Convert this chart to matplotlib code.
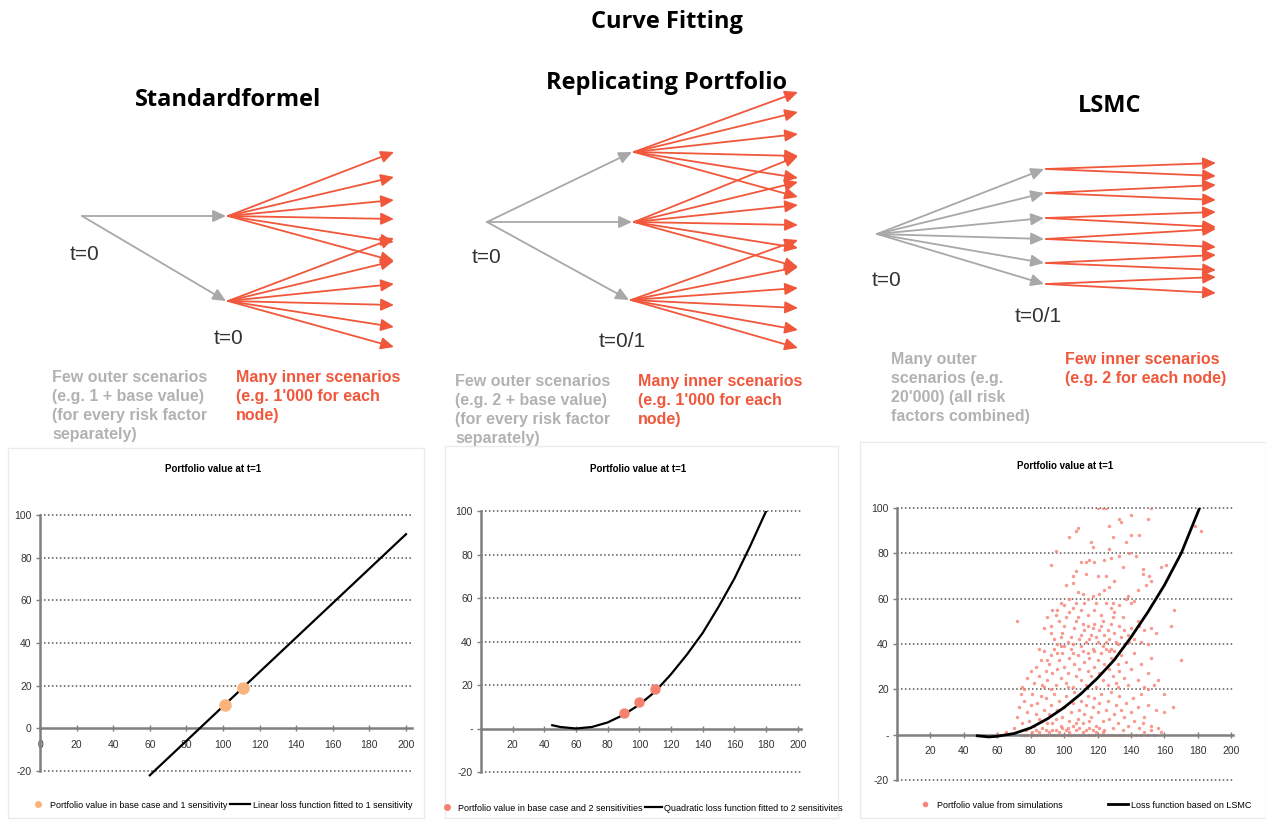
import matplotlib.pyplot as plt
from matplotlib.patches import Rectangle
from matplotlib.lines import Line2D

W, H = 1266, 822
GRAY = '#a8a8a8'
RED = '#f0573b'
NARROW = ['Liberation Sans Narrow', 'Liberation Sans', 'DejaVu Sans']

# ---- tree diagrams (pixel positions of the nodes)
sf_root = (82, 216)
sf_nodes = [(228, 216), (228, 301)]
sf_end_x = 394
sf_ends = [[152, 177, 200, 219, 242, 261], [238, 261, 284, 305, 327, 347]]

rp_root = (487, 222)
rp_nodes = [(634, 152), (634, 222), (631, 300)]
rp_end_x = 798
rp_ends = [[92, 112, 134, 156, 178, 197],
           [156, 182, 205, 225, 248, 267],
           [240, 267, 288, 308, 330, 348]]

ls_root = (877, 234)
ls_nodes = [(1046, 169), (1046, 193), (1046, 218), (1046, 239), (1046, 263), (1046, 284)]
ls_end_x = 1216
ls_ends = [[163, 176], [185, 200], [212, 227], [229, 247], [255, 270], [277, 293]]

# ---- chart data
y_ticks = [-20, 0, 20, 40, 60, 80, 100]
x_ticks = [0, 20, 40, 60, 80, 100, 120, 140, 160, 180, 200]

lin_x = [60, 200]
lin_y = [-22, 91]
sens1_x = [101, 111]
sens1_y = [11, 19]

quad_x = [45, 50, 60, 70, 80, 90, 100, 110, 120, 130, 140, 150, 160, 170, 180]
quad_y = [1.5, 0.7, 0, 0.7, 2.8, 6.3, 11, 17, 25, 34, 44, 56, 69, 84, 100]
sens2_x = [90, 100, 110]
sens2_y = [7, 12, 18]

lsmc_x = [48, 55, 60, 70, 80, 90, 100, 110, 120, 130, 140, 150, 160, 170, 181]
lsmc_y = [-0.5, -1, -0.7, 0.5, 3, 7, 12, 18, 25, 33, 43, 54, 66, 80, 100]

sim_pts = [
    (120, 100), (123, 100), (125, 100), (152, 100), (140, 97), (133, 95), (134, 94), (150, 95),
    (108, 91), (107, 90), (127, 92), (103, 87), (129, 87), (140, 88), (145, 88), (178, 92),
    (182, 90), (137, 85), (116, 85), (117, 83), (127, 82), (139, 80), (128, 78), (133, 79),
    (143, 79), (95, 81), (113, 76), (115, 77), (124, 77), (135, 74), (147, 73), (147, 71),
    (92, 75), (161, 75),
    (110, 76), (118, 76), (105, 70), (107, 72), (113, 71), (120, 70), (125, 70), (130, 68),
    (101, 66), (105, 67), (108, 63), (111, 62), (114, 60), (117, 61), (121, 62), (124, 64),
    (127, 65), (129, 58), (133, 57), (128, 56), (140, 58), (142, 59), (138, 61), (151, 70),
    (152, 68), (158, 74), (103, 60), (107, 58), (112, 58), (119, 58), (125, 58), (137, 60),
    (144, 64), (149, 66), (98, 58), (96, 55),
    (72, 50), (88, 47), (90, 52), (92, 48), (93, 55), (95, 53), (97, 50), (99, 45), (100, 48),
    (101, 52), (103, 54), (104, 43), (106, 47), (107, 50), (108, 52), (110, 44), (111, 49),
    (112, 46), (113, 41), (114, 48), (116, 44), (117, 47), (118, 49), (119, 43), (120, 41),
    (121, 46), (122, 48), (123, 50), (124, 44), (126, 46), (127, 42), (128, 49), (129, 52),
    (130, 45), (131, 41), (133, 48), (134, 43), (136, 46), (138, 44), (140, 47), (142, 42),
    (145, 48), (148, 46), (152, 47), (155, 45), (164, 48), (166, 55), (94, 42), (96, 40),
    (98, 43), (102, 41), (105, 40), (109, 42), (115, 42), (125, 41), (132, 40), (139, 41),
    (146, 41), (150, 40), (92, 45), (100, 57), (114, 53), (118, 55), (105, 56), (110, 55),
    (122, 53), (130, 54), (135, 52), (144, 50), (128, 38),
    (74, 18), (75, 21), (76, 20), (78, 25), (80, 28), (82, 23), (83, 30), (85, 26), (86, 33),
    (87, 22), (88, 37), (89, 28), (90, 24), (91, 31), (92, 35), (93, 27), (94, 38), (95, 22),
    (96, 29), (97, 33), (98, 25), (99, 36), (100, 30), (101, 23), (102, 27), (103, 34),
    (104, 38), (105, 21), (106, 31), (107, 26), (108, 35), (109, 29), (110, 24), (111, 37),
    (112, 32), (113, 22), (114, 28), (115, 34), (116, 26), (117, 38), (118, 30), (119, 21),
    (120, 33), (121, 27), (122, 36), (123, 24), (124, 31), (125, 38), (126, 22), (127, 29),
    (128, 34), (129, 26), (130, 37), (131, 23), (132, 31), (133, 28), (134, 35), (136, 25),
    (137, 32), (138, 22), (140, 29), (142, 36), (144, 24), (146, 31), (148, 21), (150, 27),
    (152, 34), (154, 22), (156, 24), (170, 33), (160, 18), (96, 36), (98, 39), (102, 21),
    (105, 36), (110, 39), (114, 36), (118, 37), (123, 39), (127, 37), (132, 21), (88, 21),
    (92, 20), (100, 39), (85, 38), (90, 33),
    (70, 3), (72, 8), (73, 12), (75, 5), (76, 15), (77, 2), (78, 10), (79, 6), (80, 13),
    (81, 18), (82, 4), (83, 9), (84, 14), (85, 7), (86, 17), (87, 3), (88, 11), (89, 16),
    (90, 5), (91, 9), (92, 13), (93, 2), (94, 18), (95, 7), (96, 11), (97, 15), (98, 4),
    (99, 8), (100, 12), (101, 17), (102, 3), (103, 6), (104, 10), (105, 14), (106, 19),
    (107, 2), (108, 7), (109, 11), (110, 15), (111, 5), (112, 9), (113, 13), (114, 17),
    (115, 3), (116, 8), (117, 12), (118, 16), (119, 4), (120, 10), (121, 14), (122, 18),
    (123, 6), (124, 2), (125, 11), (126, 15), (127, 7), (128, 19), (129, 3), (130, 9),
    (131, 13), (132, 5), (133, 17), (134, 11), (135, 2), (136, 8), (137, 14), (138, 4),
    (140, 10), (141, 16), (142, 6), (144, 12), (145, 3), (146, 18), (148, 8), (150, 13),
    (152, 4), (155, 11), (158, 1), (101, 2), (103, 1), (105, 4), (107, 5), (109, 3),
    (111, 1), (113, 2), (115, 6), (117, 2), (119, 1), (121, 3), (123, 1), (99, 3), (97, 1),
    (95, 2), (93, 5), (91, 1), (89, 2), (87, 6), (85, 1), (83, 2), (81, 1), (60, 0.5),
    (65, 1), (68, 0.5), (148, 1), (152, 2), (156, 3), (150, 20), (160, 10), (165, 12),
    (147, 5),
    (74, 0), (76, 0), (78, 0), (80, 0), (82, 0), (84, 0), (86, 0), (88, 0), (90, 0), (92, 0),
    (94, 0), (96, 0), (98, 0), (100, 0), (102, 0), (104, 0), (106, 0), (108, 0), (110, 0),
    (112, 0), (114, 0), (116, 0), (118, 0), (120, 0), (122, 0), (124, 0), (126, 0), (128, 0),
    (130, 0), (132, 0), (134, 0), (136, 0), (138, 0), (140, 0), (143, 0), (146, 0), (150, 0),
    (154, 0),
]
sim_x = [p[0] for p in sim_pts]
sim_y = [p[1] for p in sim_pts]

fig = plt.figure(figsize=(W / 100, H / 100), dpi=100)
fig.patch.set_facecolor('white')

ov = fig.add_axes([0, 0, 1, 1])
ov.set_xlim(0, W)
ov.set_ylim(H, 0)
ov.axis('off')


def arrow(p0, p1, color):
    ov.annotate('', xy=p1, xytext=p0,
                arrowprops=dict(arrowstyle='-|>,head_length=0.65,head_width=0.3',
                                color=color, lw=1.3, mutation_scale=12,
                                shrinkA=0, shrinkB=0))


def tree(root, nodes, end_x, ends):
    for (nx, ny), ys in zip(nodes, ends):
        arrow(root, (nx - 2, ny), GRAY)
        for ey in ys:
            arrow((nx, ny), (end_x, ey), RED)


tree(sf_root, sf_nodes, sf_end_x, sf_ends)
tree(rp_root, rp_nodes, rp_end_x, rp_ends)
tree(ls_root, ls_nodes, ls_end_x, ls_ends)

# titles
head = dict(fontsize=17, fontweight='bold', family=['Open Sans', 'DejaVu Sans'],
            ha='center', va='center', color='black')
ov.text(667, 22, 'Curve Fitting', **head)
ov.text(228, 100, 'Standardformel', **head)
ov.text(666, 83, 'Replicating Portfolio', **head)
ov.text(1110, 106, 'LSMC', **head)

# time labels
tl = dict(fontsize=15, color='#333333', ha='center', va='center', family='Liberation Sans')
ov.text(85, 254, 't=0', **tl)
ov.text(229, 338, 't=0', **tl)
ov.text(487, 257, 't=0', **tl)
ov.text(622, 341, 't=0/1', **tl)
ov.text(887, 280, 't=0', **tl)
ov.text(1038, 316, 't=0/1', **tl)

# scenario notes
note = dict(fontsize=11.5, fontweight='bold', family='Liberation Sans', va='top',
            ha='left', linespacing=1.32, zorder=2)
ov.text(52, 370, 'Few outer scenarios\n(e.g. 1 + base value)\n(for every risk factor\nseparately)',
        color='#b2b2b2', **note)
ov.text(236, 370, "Many inner scenarios\n(e.g. 1'000 for each\nnode)", color=RED, **note)
ov.text(455, 374, 'Few outer scenarios\n(e.g. 2 + base value)\n(for every risk factor\nseparately)',
        color='#b2b2b2', **note)
ov.text(638, 374, "Many inner scenarios\n(e.g. 1'000 for each\nnode)", color=RED, **note)
ov.text(891, 352, "Many outer\nscenarios (e.g.\n20'000) (all risk\nfactors combined)",
        color='#b2b2b2', **note)
ov.text(1065, 352, "Few inner scenarios\n(e.g. 2 for each node)", color=RED, **note)

# panel frames for the three charts
for x0, y0, x1, y1 in [(8, 448, 424, 818), (445, 446, 838, 818), (860, 442, 1266, 818)]:
    ov.add_patch(Rectangle((x0, y0), x1 - x0, y1 - y0, facecolor='white',
                           edgecolor='#ebebeb', lw=1, zorder=5))


def chart(left, right, top, bottom, xmax, zero_label, title, title_xy):
    ax = fig.add_axes([left / W, (H - bottom) / H, (right - left) / W, (bottom - top) / H])
    ax.set_facecolor('none')
    ax.set_xlim(0, xmax)
    ax.set_ylim(-20, 100)
    for s in ['top', 'right']:
        ax.spines[s].set_visible(False)
    ax.spines['bottom'].set_position(('data', 0))
    for s in ['left', 'bottom']:
        ax.spines[s].set_color('#7f7f7f')
        ax.spines[s].set_linewidth(1.8)
    ax.set_yticks(y_ticks)
    ax.set_yticklabels([('0' if zero_label else '-') if v == 0 else str(v) for v in y_ticks])
    ax.set_xticks(x_ticks)
    ax.set_xticklabels([('0' if zero_label else '') if v == 0 else str(v) for v in x_ticks])
    ax.tick_params(axis='y', direction='out', length=3, width=1, color='#7f7f7f',
                   labelsize=7.5, labelcolor='#333333', pad=3)
    ax.tick_params(axis='x', direction='inout', length=5, width=1, color='#7f7f7f',
                   labelsize=7.5, labelcolor='#333333', pad=6)
    for lab in ax.get_xticklabels() + ax.get_yticklabels():
        lab.set_family(NARROW)
    for v in y_ticks:
        if v != 0:
            ax.axhline(v, color='#555555', lw=1.1, ls=(0, (1, 1.6)), zorder=0, clip_on=False)
    ov.text(title_xy[0], title_xy[1], title, fontsize=7, fontweight='bold',
            family=NARROW, ha='center', va='center', zorder=6)
    return ax


leg = dict(frameon=False, ncol=2, prop={'family': NARROW, 'size': 6.5},
           handlelength=2.2, handletextpad=0.3, bbox_transform=fig.transFigure, loc='center')

ax1 = chart(40, 411.5, 515, 771, 203, True, 'Portfolio value at t=1', (213, 469))
ax1.plot(lin_x, lin_y, color='black', lw=1.6, clip_on=False, zorder=3)
ax1.plot(sens1_x, sens1_y, 'o', color='#f9b47d', ms=8, zorder=4)
ax1.legend([Line2D([], [], ls='', marker='o', color='#f9b47d', ms=4),
            Line2D([], [], color='black', lw=1.6)],
           ['Portfolio value in base case and 1 sensitivity',
            'Linear loss function fitted to 1 sensitivity'],
           bbox_to_anchor=(220 / W, 17 / H), columnspacing=0.3, **leg)

ax2 = chart(481, 801, 511, 772, 202, False, 'Portfolio value at t=1', (638, 469))
ax2.plot(quad_x, quad_y, color='black', lw=1.6, zorder=3)
ax2.plot(sens2_x, sens2_y, 'o', color='#f5826e', ms=6.5, zorder=4)
ax2.legend([Line2D([], [], ls='', marker='o', color='#f5826e', ms=4),
            Line2D([], [], color='black', lw=1.6)],
           ['Portfolio value in base case and 2 sensitivities',
            'Quadratic loss function fitted to 2 sensitivites'],
           bbox_to_anchor=(641 / W, 14 / H), columnspacing=0.3, handlelength=1.8,
           **{k: v for k, v in leg.items() if k != 'handlelength'})

ax3 = chart(897, 1233, 508, 780, 201, False, 'Portfolio value at t=1', (1065, 466))
ax3.scatter(sim_x, sim_y, s=6, color='#f7877b', alpha=0.85, lw=0, zorder=2)
ax3.plot(lsmc_x, lsmc_y, color='black', lw=2, zorder=3)
ax3.legend([Line2D([], [], ls='', marker='o', color='#f7877b', ms=3),
            Line2D([], [], color='black', lw=2)],
           ['Portfolio value from simulations', 'Loss function based on LSMC'],
           bbox_to_anchor=(1083 / W, 17 / H), columnspacing=5, **leg)

fig.savefig('out.png', dpi=100, facecolor='white')
